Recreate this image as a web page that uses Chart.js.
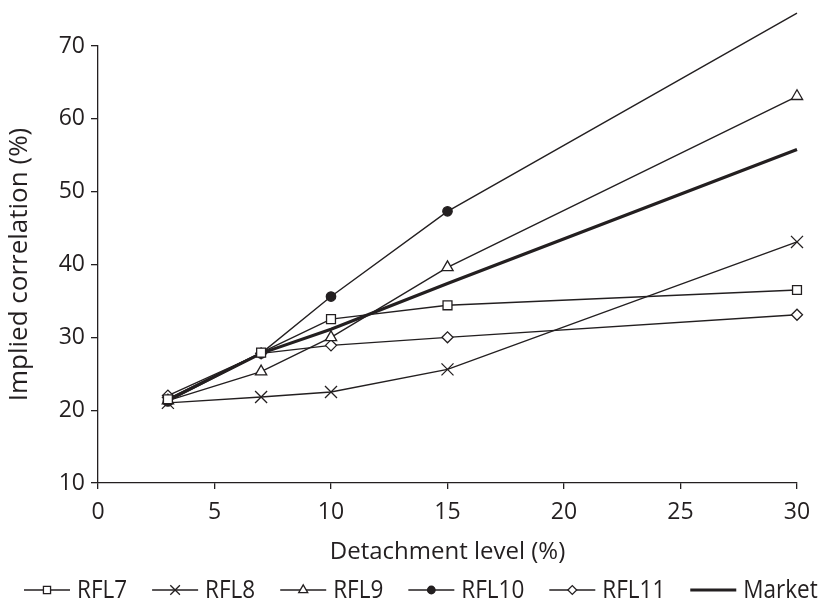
<!DOCTYPE html>
<html>
<head>
<meta charset="utf-8">
<title>Implied correlation by detachment level</title>
<script src="https://cdn.jsdelivr.net/npm/chart.js@4.4.0/dist/chart.umd.min.js"></script>
<style>
  html, body { margin: 0; padding: 0; background: #fff; }
  canvas { display: block; }
</style>
</head>
<body>
<canvas id="correlation-chart" width="827" height="615"></canvas>
<script>
// Detachment levels (%) at which implied correlation was computed
const detachment = [3, 7, 10, 15, 30];

// Implied correlation (%) per model, one value per detachment level
const rfl7 = [21.5, 27.9, 32.5, 34.4, 36.5];
const rfl8 = [21.0, 21.8, 22.5, 25.6, 43.1];
const rfl9 = [21.3, 25.3, 30.0, 39.6, 63.1];
const rfl10 = [21.2, 27.8, 35.6, 47.3, 74.5];
const rfl11 = [22.0, 27.8, 28.9, 30.0, 33.1];
const market = [21.4, 27.8, 31.1, 37.4, 55.8];

// Axis ticks
const xTicks = [0, 5, 10, 15, 20, 25, 30];
const yTicks = [10, 20, 30, 40, 50, 60, 70];

const ink = '#231f20';
const sans = '"Open Sans", "Noto Sans", sans-serif';

function series(label, values, style) {
    return Object.assign({
        label: label,
        data: detachment.map((x, i) => ({ x: x, y: values[i] })),
        borderColor: ink,
        borderWidth: 1.4,
        pointBorderColor: ink,
        pointBorderWidth: 1.3,
        pointBackgroundColor: '#fff',
        tension: 0,
        clip: false,
        // markers that fall above the top of the axis are left out
        pointRadius: ctx => (ctx.parsed && ctx.parsed.y > yTicks[yTicks.length - 1]) ? 0 : style.radius
    }, style);
}

const datasets = [
    series('RFL7', rfl7, { pointStyle: 'rect', radius: 6.3 }),
    series('RFL8', rfl8, { pointStyle: 'crossRot', radius: 8.5 }),
    series('RFL9', rfl9, { pointStyle: 'triangle', radius: 6.5 }),
    series('RFL10', rfl10, { pointStyle: 'circle', radius: 4.7, pointBackgroundColor: ink }),
    series('RFL11', rfl11, { pointStyle: 'rectRot', radius: 5.5 }),
    series('Market', market, { pointStyle: false, radius: 0, borderWidth: 3.2 })
];

// Legend drawn as a single row: line sample with marker, then the name
const legendRow = {
    id: 'legendRow',
    afterDraw(chart) {
        const ctx = chart.ctx;
        const y = 590;
        const lineLen = 46;
        const squeeze = 0.9;
        let x = 24;
        ctx.save();
        ctx.font = '25px ' + sans;
        ctx.textBaseline = 'middle';
        ctx.textAlign = 'left';
        chart.data.datasets.forEach(ds => {
            ctx.strokeStyle = ds.borderColor;
            ctx.lineWidth = ds.borderWidth;
            ctx.beginPath();
            ctx.moveTo(x, y);
            ctx.lineTo(x + lineLen, y);
            ctx.stroke();
            if (ds.pointStyle) {
                ctx.fillStyle = ds.pointBackgroundColor;
                ctx.strokeStyle = ds.pointBorderColor;
                ctx.lineWidth = ds.pointBorderWidth;
                Chart.helpers.drawPoint(ctx, {
                    pointStyle: ds.pointStyle,
                    rotation: 0,
                    radius: ds.radius * 0.8,
                    borderWidth: ds.pointBorderWidth
                }, x + lineLen / 2, y);
            }
            x += lineLen + 7;
            ctx.save();
            ctx.translate(x, y + 1);
            ctx.scale(squeeze, 1);
            ctx.fillStyle = ink;
            ctx.fillText(ds.label, 0, 0);
            ctx.restore();
            x += ctx.measureText(ds.label).width * squeeze + 25;
        });
        ctx.restore();
    }
};

new Chart(document.getElementById('correlation-chart'), {
    type: 'line',
    data: { datasets: datasets },
    plugins: [legendRow],
    options: {
        responsive: false,
        animation: false,
        devicePixelRatio: 1,
        layout: { padding: { left: 0, right: 30, top: 46, bottom: 47 } },
        plugins: {
            legend: { display: false },
            tooltip: { enabled: false }
        },
        scales: {
            x: {
                type: 'linear',
                min: 0,
                max: 30,
                afterBuildTicks: s => { s.ticks = xTicks.map(v => ({ value: v })); },
                afterFit: s => { s.height = 85; },
                grid: { drawOnChartArea: false, tickLength: 6, color: ink, lineWidth: 1.3 },
                border: { display: true, color: ink, width: 1.3 },
                ticks: { color: ink, font: { family: sans, size: 23 }, padding: 10, maxRotation: 0 },
                title: {
                    display: true,
                    text: 'Detachment level (%)',
                    color: ink,
                    font: { family: sans, size: 24 },
                    padding: { top: 0, bottom: 1 }
                }
            },
            y: {
                type: 'linear',
                min: 10,
                max: 70,
                afterBuildTicks: s => { s.ticks = yTicks.map(v => ({ value: v })); },
                afterFit: s => { s.width = 98; },
                grid: { drawOnChartArea: false, tickLength: 7, color: ink, lineWidth: 1.3 },
                border: { display: true, color: ink, width: 1.3 },
                ticks: { color: ink, font: { family: sans, size: 23 }, padding: 6 },
                title: {
                    display: true,
                    text: 'Implied correlation (%)',
                    color: ink,
                    font: { family: sans, size: 26 },
                    padding: { top: 4, bottom: 0 }
                }
            }
        }
    }
});
</script>
</body>
</html>
